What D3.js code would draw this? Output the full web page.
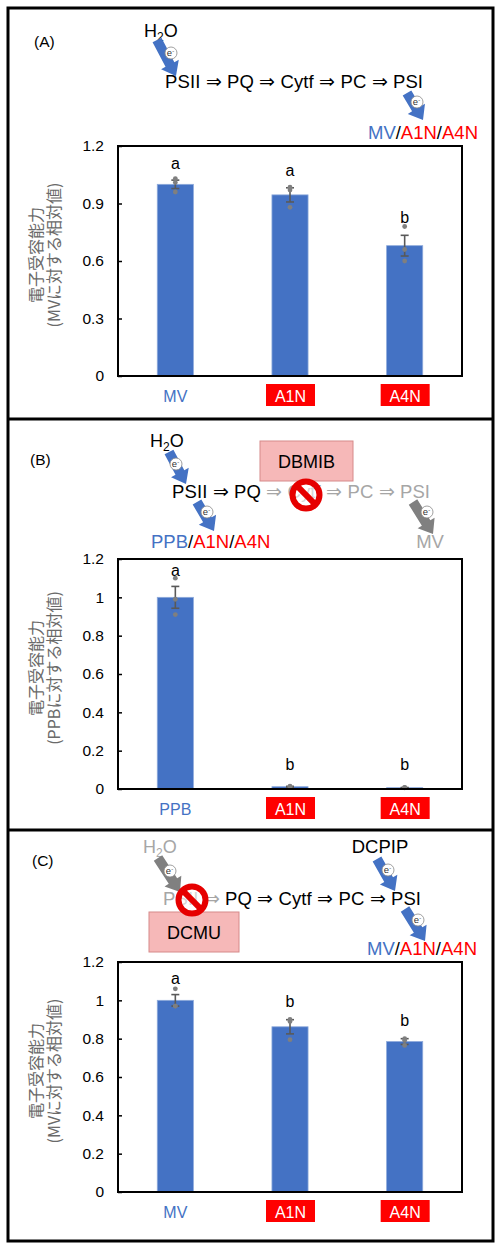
<!DOCTYPE html>
<html>
<head>
<meta charset="utf-8">
<script src="https://cdn.jsdelivr.net/npm/d3@7"></script>
<style>
  body { margin: 0; background: #fff; }
  svg { display: block; }
</style>
</head>
<body>
<div id="chart"></div>
<script>
// ---- data ----
const catsA = ["MV", "A1N", "A4N"];
const meansA = [1.0, 0.945, 0.68];
const seA = [0.022, 0.037, 0.054];
const pointsA = [[1.03, 1.01, 0.96], [0.985, 0.97, 0.88], [0.78, 0.66, 0.6]];
const lettersA = ["a", "a", "b"];
const letterAtA = [1.08, 1.046, 0.8];
const ticksA = [0, 0.3, 0.6, 0.9, 1.2];
const tickLabelsA = ["0", "0.3", "0.6", "0.9", "1.2"];

const catsB = ["PPB", "A1N", "A4N"];
const meansB = [1.0, 0.012, 0.007];
const seB = [0.057, 0.002, 0.001];
const pointsB = [[1.1, 0.99, 0.91], [0.015, 0.011, 0.01], [0.008, 0.007, 0.006]];
const lettersB = ["a", "b", "b"];
const letterAtB = [1.11, 0.1, 0.1];
const ticksB = [0, 0.2, 0.4, 0.6, 0.8, 1, 1.2];
const tickLabelsB = ["0", "0.2", "0.4", "0.6", "0.8", "1", "1.2"];

const catsC = ["MV", "A1N", "A4N"];
const meansC = [1.0, 0.862, 0.785];
const seC = [0.03, 0.037, 0.015];
const pointsC = [[1.06, 0.97, 0.97], [0.9, 0.89, 0.795], [0.8, 0.79, 0.765]];
const lettersC = ["a", "b", "b"];
const letterAtC = [1.086, 0.963, 0.864];
const ticksC = ticksB;
const tickLabelsC = tickLabelsB;

const titleLine1 = "電子受容能力";
const titleLine2A = "(MVに対する相対値)";
const titleLine2B = "(PPBに対する相対値)";
const titleLine2C = "(MVに対する相対値)";

// ---- layout ----
const W = 500, H = 1250;
const blue = "#4472C4", red = "#FF0000", grey = "#a6a6a6";
const sans = "'Liberation Sans', Arial, sans-serif";
const jp = "'Noto Sans CJK JP', sans-serif";

const svg = d3.select("#chart").append("svg")
  .attr("width", W).attr("height", H)
  .attr("viewBox", `0 0 ${W} ${H}`);

// outer frame + dividers
svg.append("rect").attr("x", 8).attr("y", 8).attr("width", 485).attr("height", 1233)
  .attr("fill", "none").attr("stroke", "#000").attr("stroke-width", 3);
[419, 830].forEach(y => svg.append("line")
  .attr("x1", 8).attr("x2", 493).attr("y1", y).attr("y2", y)
  .attr("stroke", "#000").attr("stroke-width", 3));

function barChart(o) {
  const left = 118, right = 462;
  const x = d3.scaleBand().domain(o.cats).range([left, right]).padding(0);
  const y = d3.scaleLinear().domain([0, 1.2]).range([o.bottom, o.top]);
  const bw = x.step() * 0.315;
  const g = svg.append("g");
  const cx = c => x(c) + x.bandwidth() / 2;

  // bars
  g.selectAll("rect.bar").data(o.cats).join("rect")
    .attr("class", "bar")
    .attr("x", c => cx(c) - bw / 2)
    .attr("width", bw)
    .attr("y", (c, i) => y(o.means[i]))
    .attr("height", (c, i) => y(0) - y(o.means[i]))
    .attr("fill", blue).attr("stroke", "#8eaadb").attr("stroke-width", 0.8);

  // error bars
  const eb = g.selectAll("g.eb").data(o.cats).join("g").attr("class", "eb")
    .attr("stroke", "#595959").attr("stroke-width", 1.6);
  eb.append("line")
    .attr("x1", cx).attr("x2", cx)
    .attr("y1", (c, i) => y(o.means[i] - o.se[i]))
    .attr("y2", (c, i) => y(o.means[i] + o.se[i]));
  [-1, 1].forEach(s => eb.append("line")
    .attr("x1", c => cx(c) - 4).attr("x2", c => cx(c) + 4)
    .attr("y1", (c, i) => y(o.means[i] + s * o.se[i]))
    .attr("y2", (c, i) => y(o.means[i] + s * o.se[i])));

  // individual points
  o.cats.forEach((c, i) => {
    g.selectAll(null).data(o.points[i]).join("circle")
      .attr("cx", cx(c)).attr("cy", d => y(d)).attr("r", 2.4)
      .attr("fill", "#7f7f7f");
  });

  // significance letters
  g.selectAll("text.sig").data(o.cats).join("text")
    .attr("class", "sig")
    .attr("x", cx).attr("y", (c, i) => y(o.letterAt[i]))
    .attr("text-anchor", "middle")
    .attr("font-family", sans).attr("font-size", 16)
    .text((c, i) => o.letters[i]);

  // frame
  g.append("rect").attr("x", left).attr("y", o.top)
    .attr("width", right - left).attr("height", o.bottom - o.top)
    .attr("fill", "none").attr("stroke", "#000").attr("stroke-width", 2);

  // y axis ticks (inside) + labels
  const ax = g.append("g").attr("transform", `translate(${left},0)`)
    .call(d3.axisRight(y).tickValues(o.ticks).tickSize(4).tickFormat((d, i) => o.tickLabels[i]));
  ax.select(".domain").remove();
  ax.selectAll(".tick line").attr("stroke", "#000").attr("stroke-width", 1.5);
  ax.selectAll(".tick text")
    .attr("x", -14).attr("text-anchor", "end")
    .attr("font-family", sans).attr("font-size", 15.5).attr("fill", "#000");

  // x category labels
  o.cats.forEach((c, i) => {
    if (i === 0) {
      g.append("text").attr("x", cx(c)).attr("y", o.bottom + 25.5)
        .attr("text-anchor", "middle").attr("font-family", sans).attr("font-size", 16)
        .attr("fill", blue).text(c);
    } else {
      g.append("rect").attr("x", cx(c) - 24).attr("y", o.bottom + 8)
        .attr("width", 49).attr("height", 22).attr("fill", red);
      g.append("text").attr("x", cx(c) + 0.5).attr("y", o.bottom + 25.5)
        .attr("text-anchor", "middle").attr("font-family", sans).attr("font-size", 16)
        .attr("fill", "#fff").text(c);
    }
  });

  // y axis title
  const cy = (o.top + o.bottom) / 2 - 6;
  [[titleLine1, 35], [o.title2, 53]].forEach(([t, tx]) =>
    g.append("text")
      .attr("transform", `translate(${tx},${cy}) rotate(-90)`)
      .attr("text-anchor", "middle").attr("dominant-baseline", "central")
      .attr("font-family", jp).attr("font-size", 16).attr("fill", "#6a6a6a")
      .text(t));
}

barChart({ cats: catsA, means: meansA, se: seA, points: pointsA, letters: lettersA,
  letterAt: letterAtA, ticks: ticksA, tickLabels: tickLabelsA, title2: titleLine2A, top: 146, bottom: 376 });
barChart({ cats: catsB, means: meansB, se: seB, points: pointsB, letters: lettersB,
  letterAt: letterAtB, ticks: ticksB, tickLabels: tickLabelsB, title2: titleLine2B, top: 559, bottom: 789 });
barChart({ cats: catsC, means: meansC, se: seC, points: pointsC, letters: lettersC,
  letterAt: letterAtC, ticks: ticksC, tickLabels: tickLabelsC, title2: titleLine2C, top: 962, bottom: 1192 });

// ---- pathway diagrams ----
function arrow(x1, y1, x2, y2, color, ex, ey) {
  const dx = x2 - x1, dy = y2 - y1, L = Math.hypot(dx, dy);
  const ux = dx / L, uy = dy / L, nx = -uy, ny = ux;
  const w = 5, hw = 10, hl = 13;
  const bx = x2 - ux * hl, by = y2 - uy * hl;
  const pts = [
    [x1 + nx * w, y1 + ny * w], [bx + nx * w, by + ny * w], [bx + nx * hw, by + ny * hw],
    [x2, y2], [bx - nx * hw, by - ny * hw], [bx - nx * w, by - ny * w], [x1 - nx * w, y1 - ny * w]
  ];
  svg.append("path").attr("d", d3.line()(pts) + "Z").attr("fill", color);
  svg.append("circle").attr("cx", ex).attr("cy", ey).attr("r", 6)
    .attr("fill", "#fff").attr("stroke", "#888").attr("stroke-width", 0.8);
  const t = svg.append("text").attr("x", ex - 0.5).attr("y", ey + 3)
    .attr("text-anchor", "middle").attr("font-family", sans).attr("font-size", 9.5).attr("fill", "#333");
  t.append("tspan").text("e");
  t.append("tspan").attr("dy", -3).attr("font-size", 6).text("-");
}

function label(x, y, size, parts, anchor) {
  const t = svg.append("text").attr("x", x).attr("y", y)
    .attr("font-family", sans).attr("font-size", size)
    .attr("text-anchor", anchor || "start");
  parts.forEach(([s, c]) => t.append("tspan").attr("fill", c).text(s));
  return t;
}

function water(x, y, color) {
  const t = svg.append("text").attr("x", x).attr("y", y)
    .attr("font-family", sans).attr("font-size", 18).attr("fill", color);
  t.append("tspan").text("H");
  t.append("tspan").attr("dy", 4).attr("font-size", 12).text("2");
  t.append("tspan").attr("dy", -4).text("O");
}

function chain(x, y, parts) {
  const t = label(x, y, 18.5, parts);
  t.attr("textLength", 258).attr("lengthAdjust", "spacing");
}

function noSign(cx, cy) {
  const r = 13.5, k = r * Math.SQRT1_2;
  svg.append("circle").attr("cx", cx).attr("cy", cy).attr("r", r)
    .attr("fill", "#fff").attr("fill-opacity", 0.55)
    .attr("stroke", "#e60000").attr("stroke-width", 6);
  svg.append("line").attr("x1", cx - k).attr("y1", cy - k).attr("x2", cx + k).attr("y2", cy + k)
    .attr("stroke", "#e60000").attr("stroke-width", 6);
}

function drugBox(x, y, w, h, name) {
  svg.append("rect").attr("x", x).attr("y", y).attr("width", w).attr("height", h)
    .attr("fill", "#f6b8b8").attr("stroke", "#d68a8a").attr("stroke-width", 1);
  label(x + w / 2, y + h / 2 + 6.5, 18, [[name, "#000"]], "middle");
}

const acceptorParts = [["MV", blue], ["/", "#000"], ["A1N", red], ["/", "#000"], ["A4N", red]];

// (A)
label(34, 47, 15.5, [["(A)", "#000"]]);
water(144, 37, "#000");
chain(165, 88, [["PSII ⇒ PQ ⇒ Cytf ⇒ PC ⇒ PSI", "#000"]]);
arrow(157, 40, 176, 76, blue, 171, 53);
arrow(407, 93, 423, 120, blue, 417, 102);
label(478, 139, 18.5, acceptorParts, "end");

// (B)
label(30, 465, 15.5, [["(B)", "#000"]]);
drugBox(260, 441, 93, 40, "DBMIB");
water(150, 447, "#000");
chain(172, 498, [["PSII ⇒ PQ ", "#000"], ["⇒ Cytf ⇒ PC ⇒ PSI", grey]]);
noSign(306, 495);
arrow(169, 452, 186, 484, blue, 176, 464);
arrow(197, 502, 214, 531, blue, 207, 512);
arrow(413, 502, 433, 534, "#808080", 427, 512);
label(151, 548, 18.5, [["PPB", blue], ["/", "#000"], ["A1N", red], ["/", "#000"], ["A4N", red]]);
label(430, 548, 18.5, [["MV", grey]], "middle");

// (C)
label(32, 866, 15.5, [["(C)", "#000"]]);
water(143, 853, grey);
label(380, 853, 18.5, [["DCPIP", "#000"]], "middle");
chain(163, 905, [["PSII ⇒ ", grey], ["PQ ⇒ Cytf ⇒ PC ⇒ PSI", "#000"]]);
arrow(158, 858, 180, 892, "#808080", 170, 871);
arrow(377, 859, 395, 891, blue, 388, 870);
arrow(405, 909, 425, 941, blue, 418, 920);
drugBox(149, 912, 90, 40, "DCMU");
noSign(192, 900);
label(477, 955, 18.5, acceptorParts, "end");
</script>
</body>
</html>
